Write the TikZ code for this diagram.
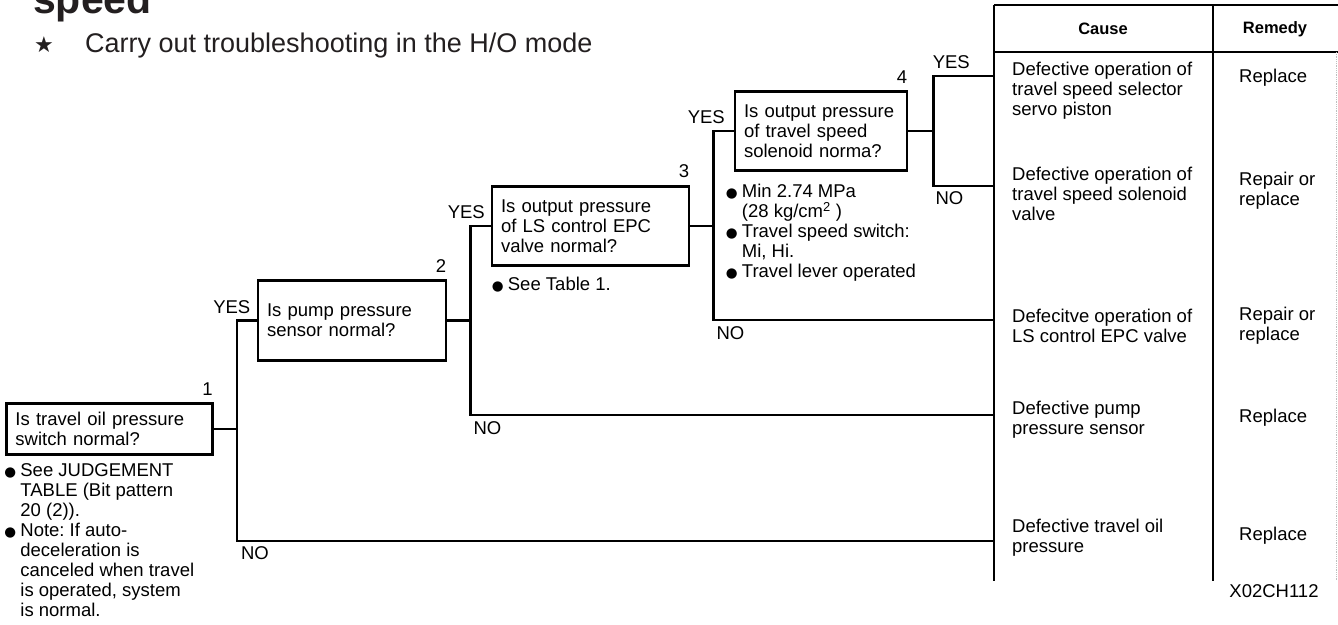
\documentclass[tikz,border=0pt]{standalone}
\usepackage{fontspec}
\setmainfont{Liberation Sans}
\newfontfamily\symfont{DejaVu Sans}
\usetikzlibrary{positioning,calc}
\definecolor{ink}{HTML}{231F20}
\frenchspacing
\newcommand\txtsize{\fontsize{18.5}{20}\selectfont}
\newcommand\blt{\makebox[16pt][l]{\symfont\fontsize{13.5}{13.5}\selectfont ●}}
\newcommand\ind{\hspace*{16pt}}

\begin{document}
\begin{tikzpicture}[x=1pt,y=-1pt,
  qbox/.style={draw,line width=2.6pt,text width=#1,inner xsep=9pt,inner ysep=2pt,align=left,font=\txtsize},
  num/.style={font=\txtsize,inner sep=1pt},
  yn/.style={font=\txtsize,inner sep=1pt},
  note/.style={font=\txtsize,align=left,inner sep=0pt},
  cell/.style={font=\txtsize,align=left,inner sep=0pt,anchor=west},
  head/.style={font=\fontsize{16.5}{18}\selectfont\bfseries},
  flow/.style={line width=2.6pt},
  tline/.style={line width=2.6pt},
]
  \useasboundingbox (0,0) rectangle (1338,624);

  % heading
  \node[anchor=base west,inner sep=0pt,text=ink,font=\fontsize{41}{41}\selectfont\bfseries] (title) at (33,13) {speed};
  \node[anchor=base west,inner sep=0pt,text=ink,font=\symfont\fontsize{22}{22}\selectfont] (star) at (34,52) {★};
  \node[anchor=base west,inner sep=0pt,text=ink,font=\fontsize{27}{30}\selectfont] (intro) at (85,52) {Carry out troubleshooting in the H/O mode};

  % questions
  \node[qbox=188pt,minimum height=51pt] (q1) at (109.5,429) {Is travel oil pressure\\switch normal?};
  \node[qbox=170pt,minimum height=80pt] (q2) at (352,320.5) {Is pump pressure\\sensor normal?};
  \node[qbox=179pt,minimum height=79pt] (q3) at (590.5,226) {Is output pressure\\of LS control EPC\\valve normal?};
  \node[qbox=154pt,minimum height=79pt] (q4) at (821,131) {Is output pressure\\of travel speed\\solenoid norma?};

  \node[num,above left=6pt and 0pt of q1.north east] (k1) {1};
  \node[num,above left=6pt and 0pt of q2.north east] (k2) {2};
  \node[num,above left=6pt and 0pt of q3.north east] (k3) {3};
  \node[num,above left=6pt and 0pt of q4.north east] (k4) {4};

  % remarks
  \node[note,below right=8pt and -1pt of q1.south west] (m1) {\blt See JUDGEMENT\\\ind TABLE (Bit pattern\\\ind 20 (2)).\\\blt Note: If auto-\\\ind deceleration is\\\ind canceled when travel\\\ind is operated, system\\\ind is normal.};
  \node[note,below right=10pt and 1pt of q3.south west] (m3) {\blt See Table 1.};
  \node[note,below right=12pt and -8pt of q4.south west] (m4) {\blt Min 2.74 MPa\\\ind (28 kg/cm\textsuperscript{2} )\\\blt Travel speed switch:\\\ind Mi, Hi.\\\blt Travel lever operated};

  % table
  \draw[tline] (994,5) -- (1338,5);
  \draw[tline] (994,52) -- (1338,52);
  \draw[tline] (994,5) -- (994,581);
  \draw[tline] (1213,5) -- (1213,581);
  \draw[gray!50,line width=.8pt,densely dotted] (1336,52) -- (1336,581);
  \node[head] (hc) at (1103,29) {Cause};
  \node[head] (hr) at (1275,29) {Remedy};

  \node[cell] (c1) at (1012,91) {Defective operation of\\travel speed selector\\servo piston};
  \node[cell] (c2) at (1012,194) {Defective operation of\\travel speed solenoid\\valve};
  \node[cell] (c3) at (1012,326) {Defecitve operation of\\LS control EPC valve};
  \node[cell] (c4) at (1012,420) {Defective pump\\pressure sensor};
  \node[cell] (c5) at (1012,538) {Defective travel oil\\pressure};

  \node[cell] (r1) at (1239,78) {Replace};
  \node[cell] (r2) at (1239,191) {Repair or\\replace};
  \node[cell] (r3) at (1239,326) {Repair or\\replace};
  \node[cell] (r4) at (1239,418) {Replace};
  \node[cell] (r5) at (1239,536) {Replace};
  \node[font=\txtsize] (code) at (1274,591) {X02CH112};

  % branches
  \coordinate (b1) at ($(q1.east)+(23,0)$);
  \coordinate (b2) at ($(q2.east)+(23,0)$);
  \coordinate (b3) at ($(q3.east)+(23,0)$);
  \coordinate (b4) at ($(q4.east)+(25,0)$);
  \coordinate (e1) at (994,76);
  \coordinate (e2) at (994,186);
  \coordinate (e3) at (994,320);
  \coordinate (e4) at (994,415);
  \coordinate (e5) at (994,541);

  \draw[flow] (q1.east) -- (b1) |- node[yn,pos=.5,above=5pt,xshift=-5pt] {YES} (q2.west);
  \draw[flow] (b1) |- node[yn,pos=.5,below right=3pt and 2pt] {NO} (e5);
  \draw[flow] (q2.east) -- (b2) |- node[yn,pos=.5,above=5pt,xshift=-4pt] {YES} (q3.west);
  \draw[flow] (b2) |- node[yn,pos=.5,below right=4pt and 1pt] {NO} (e4);
  \draw[flow] (q3.east) -- (b3) |- node[yn,pos=.5,above=5pt,xshift=-7pt] {YES} (q4.west);
  \draw[flow] (b3) |- node[yn,pos=.5,below right=4pt and 1pt] {NO} (e3);
  \draw[flow] (q4.east) -- (b4) |- node[yn,pos=.5,above=5pt,xshift=18pt] {YES} (e1);
  \draw[flow] (b4) |- node[yn,pos=.5,below right=3pt and 0pt] {NO} (e2);
\end{tikzpicture}
\end{document}
